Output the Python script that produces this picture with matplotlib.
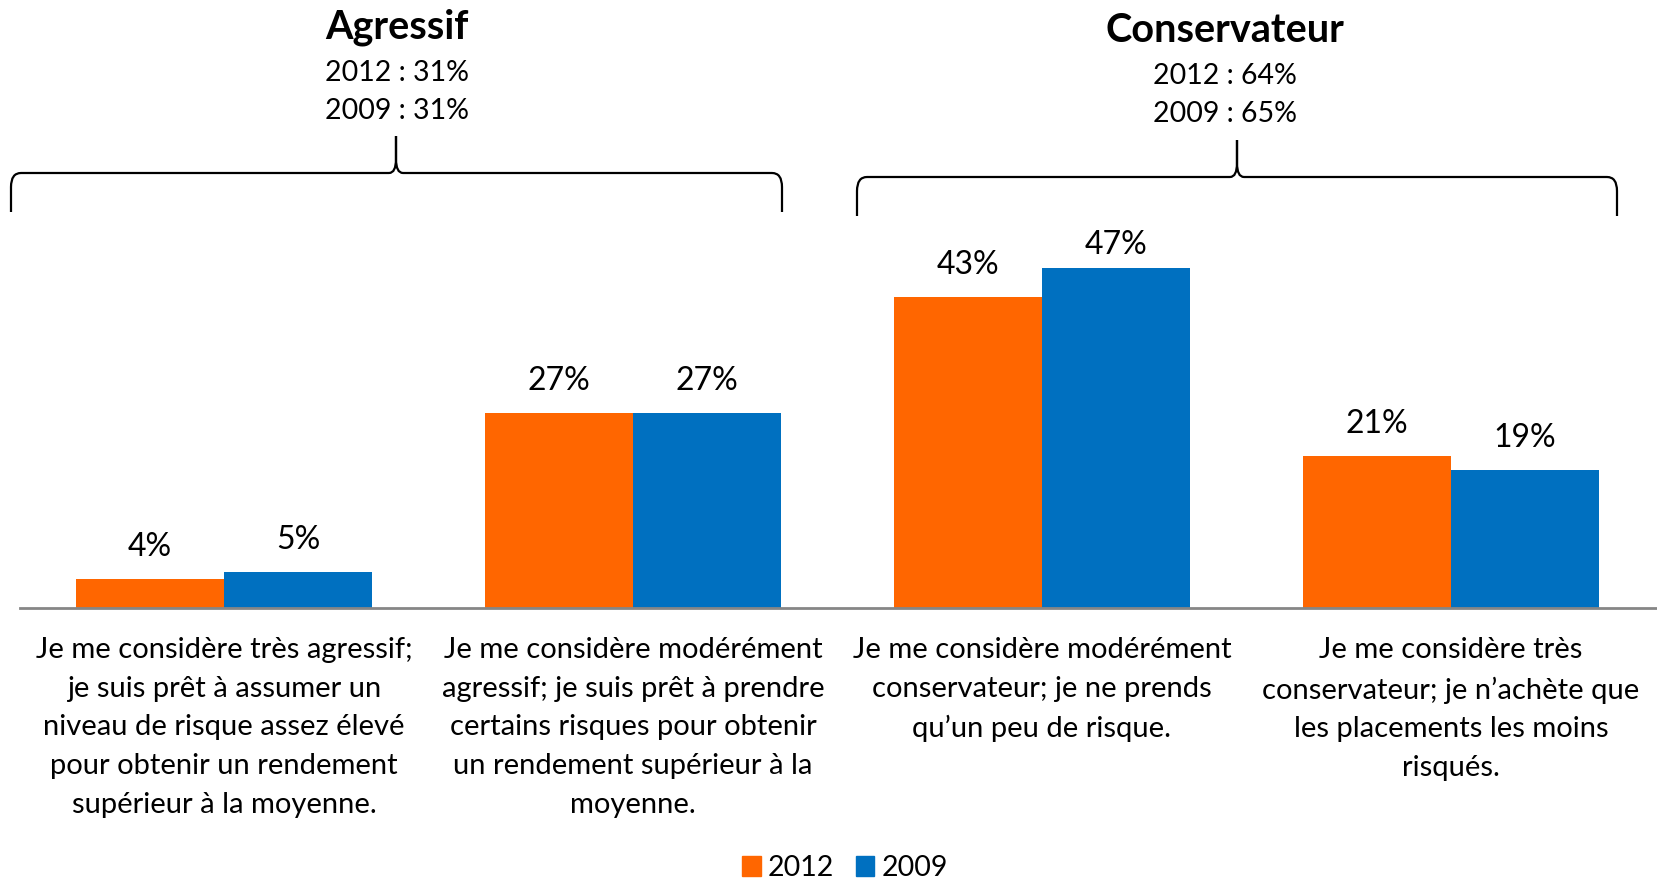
import matplotlib
matplotlib.use('Agg')
import matplotlib.pyplot as plt
from matplotlib.path import Path
from matplotlib.patches import PathPatch, Patch
import numpy as np

plt.rcParams['font.family'] = ['Lato', 'DejaVu Sans']

categories = [
    "Je me considère très agressif;\nje suis prêt à assumer un\nniveau de risque assez élevé\npour obtenir un rendement\nsupérieur à la moyenne.",
    "Je me considère modérément\nagressif; je suis prêt à prendre\ncertains risques pour obtenir\nun rendement supérieur à la\nmoyenne.",
    "Je me considère modérément\nconservateur; je ne prends\nqu’un peu de risque.",
    "Je me considère très\nconservateur; je n’achète que\nles placements les moins\nrisqués.",
]
vals_2012 = [4, 27, 43, 21]
vals_2009 = [5, 27, 47, 19]
series_names = ['2012', '2009']

group_names = ['Agressif', 'Conservateur']
group_2012 = [31, 64]
group_2009 = [31, 65]

ORANGE = '#FF6600'
BLUE = '#0070C0'

W, H = 1657, 881
fig = plt.figure(figsize=(W / 100, H / 100), dpi=100)

# main bar axes, baseline at y=608px
base = 608
ppu = 7.24
ax = fig.add_axes([19.5 / W, (H - base) / H, 1636 / W, 50 * ppu / H])
x = np.arange(len(categories))
bw = 0.362
b1 = ax.bar(x - bw / 2, vals_2012, bw, color=ORANGE, label=series_names[0])
b2 = ax.bar(x + bw / 2, vals_2009, bw, color=BLUE, label=series_names[1])
ax.set_xlim(-0.5, 3.5)
ax.set_ylim(0, 50)

for bars, vals in ((b1, vals_2012), (b2, vals_2009)):
    for r, v in zip(bars, vals):
        # the tallest label sits a little closer to its bar
        off = 16 if v == max(vals_2009) else 23
        ax.annotate('{}%'.format(v), (r.get_x() + r.get_width() / 2, v),
                    xytext=(0, off), textcoords='offset points',
                    ha='center', va='center', fontsize=23, clip_on=False)

for s in ['top', 'right', 'left']:
    ax.spines[s].set_visible(False)
ax.spines['bottom'].set_color('#868686')
ax.spines['bottom'].set_linewidth(2)
ax.set_yticks([])
ax.set_xticks(x)
ax.set_xticklabels(categories, fontsize=21, linespacing=1.6, va='top')
ax.tick_params(axis='x', length=0, pad=21)

# overlay in pixel coordinates for the braces and group headings
ov = fig.add_axes([0, 0, 1, 1])
ov.set_xlim(0, W)
ov.set_ylim(H, 0)
ov.axis('off')
ov.patch.set_alpha(0)


def brace(x0, x1, xm, yh, yend, ypk, rx=10, ry=14, cw=7, ch=14):
    verts = [(x0, yend), (x0, yh + ry), (x0, yh), (x0 + rx, yh),
             (xm - cw, yh), (xm, yh), (xm, yh - ch), (xm, ypk),
             (xm, yh - ch), (xm, yh), (xm + cw, yh),
             (x1 - rx, yh), (x1, yh), (x1, yh + ry), (x1, yend)]
    codes = [Path.MOVETO, Path.LINETO, Path.CURVE3, Path.CURVE3,
             Path.LINETO, Path.CURVE3, Path.CURVE3, Path.LINETO,
             Path.LINETO, Path.CURVE3, Path.CURVE3,
             Path.LINETO, Path.CURVE3, Path.CURVE3, Path.LINETO]
    ov.add_patch(PathPatch(Path(verts, codes), fill=False, ec='black', lw=1.6))


brace(11, 782, 396, 173, 212, 136)
brace(857, 1617, 1237, 177, 216, 140)

heads = [(397, 27), (1225, 30)]
for (hx, hy), name, a, b in zip(heads, group_names, group_2012, group_2009):
    ov.text(hx, hy, name, ha='center', va='center', fontsize=28.5, fontweight='bold')
    ov.text(hx, hy + 46, '2012 : {}%'.format(a), ha='center', va='center', fontsize=20.5)
    ov.text(hx, hy + 84, '2009 : {}%'.format(b), ha='center', va='center', fontsize=20.5)

handles = [Patch(color=ORANGE), Patch(color=BLUE)]
fig.legend(handles, series_names, loc='center', bbox_to_anchor=(845 / W, 1 - 868 / H),
           ncol=2, frameon=False, fontsize=20.5, handlelength=0.65, handleheight=0.65,
           handletextpad=0.25, columnspacing=0.75)

fig.savefig('out.png', dpi=100)
